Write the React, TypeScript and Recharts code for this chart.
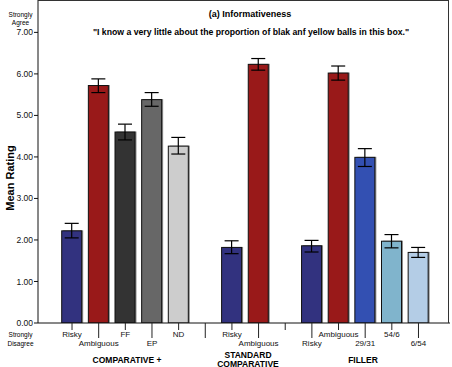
import React from "react";
import { BarChart, Bar, XAxis, YAxis, ErrorBar, Cell } from "recharts";

const categories = ["Risky", "Ambiguous", "FF", "EP", "ND", "", "Risky", "Ambiguous", "", "Risky", "Ambiguous", "29/31", "54/6", "6/54"];
const means: (number | null)[] = [2.22, 5.72, 4.6, 5.38, 4.26, null, 1.82, 6.23, null, 1.86, 6.02, 3.99, 1.97, 1.7];
const lower: (number | null)[] = [2.05, 5.55, 4.41, 5.22, 4.07, null, 1.67, 6.09, null, 1.71, 5.85, 3.77, 1.81, 1.58];
const upper: (number | null)[] = [2.4, 5.88, 4.79, 5.55, 4.47, null, 1.98, 6.37, null, 1.99, 6.19, 4.2, 2.13, 1.82];
const colors = ["#32327f", "#991919", "#333333", "#676767", "#cdcdcd", "#ffffff", "#32327f", "#991919", "#ffffff", "#32327f", "#991919", "#3350b2", "#80b4cc", "#b4cde6"];
const yTicks = [0, 1, 2, 3, 4, 5, 6, 7];
const groups = [
  { lines: ["COMPARATIVE +"], x: 127 },
  { lines: ["STANDARD", "COMPARATIVE"], x: 248 },
  { lines: ["FILLER"], x: 363 },
];

const data = categories.map((c, i) => ({
  id: "c" + i,
  label: c,
  mean: means[i],
  err: means[i] == null ? null : [(means[i] as number) - (lower[i] as number), (upper[i] as number) - (means[i] as number)],
  color: colors[i],
}));

const FONT = "'Liberation Sans', Arial, Helvetica, sans-serif";

const XTick = (props: any) => {
  const { x, y, payload } = props;
  const idx = payload.index;
  const row2 = idx % 2 === 1;
  const len = row2 ? 15 : 7;
  return (
    <g>
      <line x1={x} y1={y} x2={x} y2={y + len} stroke="#222" strokeWidth={1} />
      <text x={x} y={row2 ? y + 23 : y + 14} textAnchor="middle" fontSize={8} fontFamily={FONT} fill="#111">
        {categories[idx]}
      </text>
    </g>
  );
};

const BarShape = (props: any) => {
  const { x, y, width, height, payload } = props;
  if (!height || height <= 0) return null;
  return (
    <g>
      <rect x={x + 1.5} y={y - 0.5} width={width} height={height + 0.5} fill="#8c8c8c" />
      <rect x={x} y={y} width={width} height={height} fill={payload.color} stroke="#111" strokeWidth={1} />
    </g>
  );
};

export default function App() {
  return (
    <div style={{ position: "absolute", left: 0, top: 0, width: 452, height: 367, background: "#fff", fontFamily: FONT }}>
      <BarChart width={452} height={367} data={data} margin={{ top: 0, right: 2, left: 0, bottom: 0 }}>
        <XAxis
          dataKey="id"
          interval={0}
          tick={<XTick />}
          tickLine={false}
          tickSize={0}
          tickMargin={0}
          axisLine={{ stroke: "#111" }}
          padding={{ left: 20.7, right: 18.2 }}
          height={44}
        />
        <YAxis
          domain={[0, 7.78]}
          ticks={yTicks}
          allowDataOverflow
          width={38}
          tickSize={4}
          tickMargin={1}
          tickFormatter={(v: number) => v.toFixed(2)}
          tick={{ fontSize: 8.5, fill: "#111", fontFamily: FONT }}
          tickLine={{ stroke: "#111" }}
          axisLine={{ stroke: "#111" }}
        />
        <Bar dataKey="mean" barSize={20} isAnimationActive={false} shape={<BarShape />}>
          {data.map((d, i) => (
            <Cell key={i} fill={d.color} />
          ))}
          <ErrorBar dataKey="err" width={7} stroke="#000" strokeWidth={1.2} direction="y" />
        </Bar>
      </BarChart>

      <div style={{ position: "absolute", left: 0, top: 0, width: 452, height: 367, pointerEvents: "none" }}>
        <div style={{ position: "absolute", left: 38, top: 0, width: 411, height: 323, borderTop: "1.5px solid #333", borderRight: "1.5px solid #333", boxSizing: "border-box" }} />
        <div style={{ position: "absolute", left: 150, width: 200, top: 9, textAlign: "center", fontSize: 9, fontWeight: "bold", lineHeight: "11px" }}>
          (a) Informativeness
        </div>
        <div style={{ position: "absolute", left: 50, width: 402, top: 27, textAlign: "center", fontSize: 8.7, fontWeight: "bold", lineHeight: "11px", whiteSpace: "nowrap" }}>
          "I know a very little about the proportion of blak anf yellow balls in this box."
        </div>
        <div style={{ position: "absolute", left: 0, width: 41, top: 11, textAlign: "center", fontSize: 6.5, lineHeight: "7.5px" }}>
          Strongly<br />Agree
        </div>
        <div style={{ position: "absolute", left: 0, width: 41, top: 331, textAlign: "center", fontSize: 6.5, lineHeight: "8.5px" }}>
          Strongly<br />Disagree
        </div>
        <div style={{ position: "absolute", left: 10 - 50, top: 178 - 7, width: 100, height: 14, textAlign: "center", fontSize: 11, fontWeight: "bold", lineHeight: "14px", transform: "rotate(-90deg)", transformOrigin: "50% 50%" }}>
          Mean Rating
        </div>
        {groups.map((g, i) => (
          <div key={i} style={{ position: "absolute", left: g.x - 60, width: 120, top: g.lines.length === 2 ? 351 : 356, textAlign: "center", fontSize: 8.5, fontWeight: "bold", lineHeight: "8.5px" }}>
            {g.lines.map((l, j) => (
              <div key={j}>{l}</div>
            ))}
          </div>
        ))}
      </div>
    </div>
  );
}
